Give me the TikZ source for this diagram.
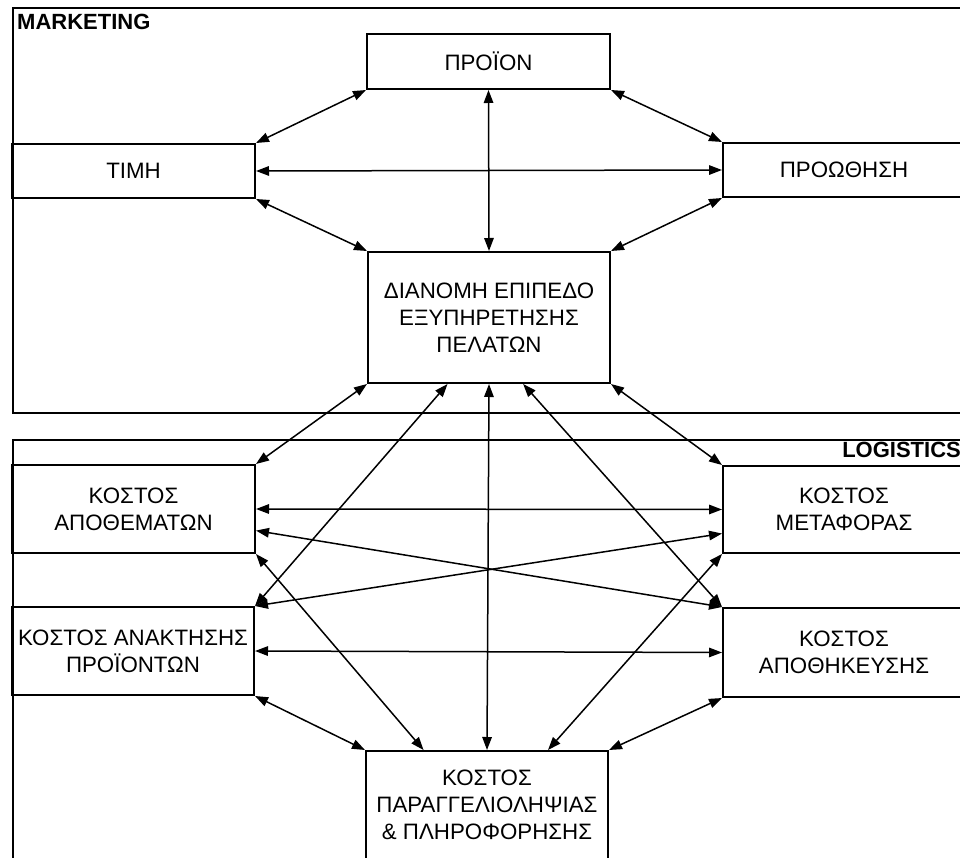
\documentclass[tikz,border=0pt]{standalone}
\usepackage{fontspec}
\setmainfont{Liberation Sans}
\usetikzlibrary{arrows.meta,calc}
\begin{document}
\begin{tikzpicture}[x=1pt,y=-1pt,
  box/.style={draw,line width=2pt,inner sep=1pt,align=center,
    font=\fontsize{22.3}{27}\selectfont,minimum width=242pt},
  area/.style={draw,line width=2pt,inner sep=0pt,anchor=north west},
  lbl/.style={font=\bfseries\fontsize{22}{27}\selectfont,inner sep=0pt},
  link/.style={line width=1.5pt,{Triangle[length=13pt,width=9.5pt]}-{Triangle[length=13pt,width=9.5pt]}}]
\useasboundingbox (0,0) rectangle (960,858);
% outer areas
\node[area,minimum width=955pt,minimum height=405pt] (mkt) at (12,7) {};
\node[area,minimum width=955pt,minimum height=419pt] (lgs) at (12,439) {};
\node[lbl,anchor=base west] (mktl) at (17,30) {MARKETING};
\node[lbl,anchor=base east] (lgsl) at (961,457) {LOGISTICS};
% marketing boxes
\node[box,minimum width=243pt,minimum height=55pt] (proion) at (488.5,61.5) {ΠΡΟΪΟΝ};
\node[box,minimum width=243pt,minimum height=54pt] (timi) at (133.5,171) {ΤΙΜΗ};
\node[box,minimum height=54pt] (proothisi) at (844,170) {ΠΡΟΩΘΗΣΗ};
\node[box,minimum height=131pt] (dianomi) at (489,317.5) {ΔΙΑΝΟΜΗ ΕΠΙΠΕΔΟ\\ΕΞΥΠΗΡΕΤΗΣΗΣ\\ΠΕΛΑΤΩΝ};
% logistics boxes
\node[box,minimum width=243pt,minimum height=88pt] (apothemata) at (133.5,509) {ΚΟΣΤΟΣ\\ΑΠΟΘΕΜΑΤΩΝ};
\node[box,minimum height=87pt] (metafora) at (844,509.5) {ΚΟΣΤΟΣ\\ΜΕΤΑΦΟΡΑΣ};
\node[box,minimum height=88pt] (anaktisi) at (133,651) {ΚΟΣΤΟΣ ΑΝΑΚΤΗΣΗΣ\\ΠΡΟΪΟΝΤΩΝ};
\node[box,minimum height=89pt] (apothikeusi) at (844,652.5) {ΚΟΣΤΟΣ\\ΑΠΟΘΗΚΕΥΣΗΣ};
\node[box,minimum height=108pt] (paragg) at (487,805) {ΚΟΣΤΟΣ\\ΠΑΡΑΓΓΕΛΙΟΛΗΨΙΑΣ\\\&~ΠΛΗΡΟΦΟΡΗΣΗΣ};
% marketing links
\draw[link] (proion.south west) -- (timi.north east);
\draw[link] (proion.south east) -- (proothisi.north west);
\draw[link] (timi.east) -- (proothisi.west);
\draw[link] (timi.south east) -- (dianomi.north west);
\draw[link] (proothisi.south west) -- (dianomi.north east);
\draw[link] (proion.south) -- (dianomi.north);
% between the two areas
\draw[link] (dianomi.south west) -- (apothemata.north east);
\draw[link] (dianomi.south east) -- (metafora.north west);
\draw[link] ($(dianomi.south west)!0.33!(dianomi.south east)$) -- (anaktisi.north east);
\draw[link] (dianomi.south) -- (paragg.north);
\draw[link] ($(dianomi.south west)!0.64!(dianomi.south east)$) -- (apothikeusi.north west);
% logistics links
\draw[link] (apothemata.east) -- (metafora.west);
\draw[link] ($(apothemata.north east)!0.74!(apothemata.south east)$) -- (apothikeusi.north west);
\draw[link] (anaktisi.north east) -- ($(metafora.north west)!0.77!(metafora.south west)$);
\draw[link] (anaktisi.east) -- (apothikeusi.west);
\draw[link] (apothemata.south east) -- ($(paragg.north west)!0.24!(paragg.north east)$);
\draw[link] (metafora.south west) -- ($(paragg.north west)!0.75!(paragg.north east)$);
\draw[link] (anaktisi.south east) -- (paragg.north west);
\draw[link] (apothikeusi.south west) -- (paragg.north east);
\end{tikzpicture}
\end{document}
